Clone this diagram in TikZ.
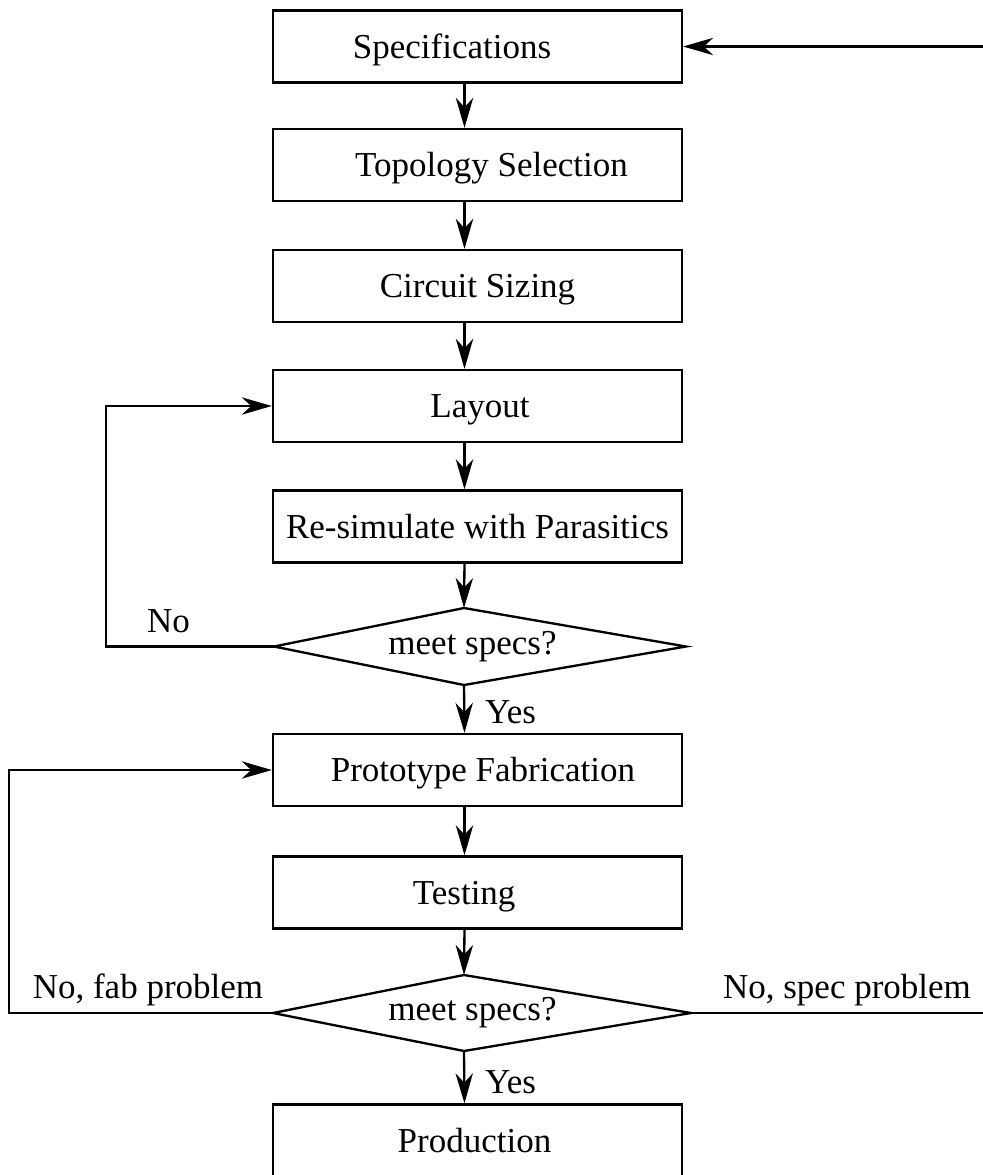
\documentclass[tikz,border=0pt]{standalone}
\usepackage{fontspec}
\setmainfont{Liberation Serif}
\usetikzlibrary{arrows.meta}

\begin{document}
\begin{tikzpicture}[x=0.3pt,y=-0.3pt,
  font=\fontsize{10.5}{12.6}\selectfont,
  line width=0.7pt,
  box/.style={draw, minimum width=122.7pt, minimum height=21.6pt, inner sep=0pt},
  txt/.style={inner sep=0pt, text height=6.9pt, text depth=0pt},
  arr/.style={-{Stealth[length=9pt,width=5.2pt,inset=2.8pt]}},
]
\clip (0,0) rectangle (983,1175);

% process boxes
\node[box, label={[txt,xshift=-7.65pt]center:Specifications}] (s1) at (477.5,46.5) {};
\node[box, label={[txt,xshift=4.2pt]center:Topology Selection}] (s2) at (477.5,165) {};
\node[box, label={[txt]center:Circuit Sizing}] (s3) at (477.5,286) {};
\node[box, label={[txt,xshift=0.75pt]center:Layout}] (s4) at (477.5,406) {};
\node[box, label={[txt]center:Re-simulate with Parasitics}] (s5) at (477.5,526.5) {};
\node[box, label={[txt,xshift=1.65pt]center:Prototype Fabrication}] (s6) at (477.5,770) {};
\node[box, label={[txt,xshift=-4pt]center:Testing}] (s7) at (477.5,892.5) {};
\node[box, label={[txt,xshift=-0.9pt]center:Production}] (s8) at (477.5,1140.5) {};

% decision diamonds
\coordinate (d1t) at (464,608);
\coordinate (d1r) at (686,646.5);
\coordinate (d1b) at (464,685);
\coordinate (d1l) at (274,646.5);
\draw (d1t) -- (d1r) -- (d1b) -- (d1l) -- cycle;
\node[txt, text height=4.6pt] (d1) at (472.5,646.5) {meet specs?};

\coordinate (d2t) at (464,975);
\coordinate (d2r) at (691,1013);
\coordinate (d2b) at (464,1051);
\coordinate (d2l) at (273,1013);
\draw (d2t) -- (d2r) -- (d2b) -- (d2l) -- cycle;
\node[txt, text height=4.6pt] (d2) at (472.5,1013) {meet specs?};

% main flow
\coordinate (ax) at (464.5,0);
\draw[arr] (s1.south -| ax) -- (s2.north -| ax);
\draw[arr] (s2.south -| ax) -- (s3.north -| ax);
\draw[arr] (s3.south -| ax) -- (s4.north -| ax);
\draw[arr] (s4.south -| ax) -- (s5.north -| ax);
\draw[arr] (s5.south -| ax) -- (d1t);
\draw[arr] (d1b) -- (s6.north -| ax);
\draw[arr] (s6.south -| ax) -- (s7.north -| ax);
\draw[arr] (s7.south -| ax) -- (d2t);
\draw[arr] (d2b) -- (s8.north -| ax);

% feedback loops
\coordinate (lx1) at (105.7,0);
\coordinate (lx2) at (9,0);
\coordinate (rx) at (1000,0);
\draw[arr] (d1l) -- (d1l -| lx1) -- (lx1 |- s4.west) -- (s4.west);
\draw[arr] (d2l) -- (d2l -| lx2) -- (lx2 |- s6.west) -- (s6.west);
\draw[arr] (d2r) -- (d2r -| rx) -- (rx |- s1.east) -- (s1.east);

% branch labels
\node[txt, anchor=base west] (yes1) at (484,723) {Yes};
\node[txt, anchor=base west] (yes2) at (484,1093) {Yes};
\node[txt, anchor=base] (no1) at (168.5,632) {No};
\node[txt, anchor=base] (no2) at (148,998) {No, fab problem};
\node[txt, anchor=base] (no3) at (847,998) {No, spec problem};
\end{tikzpicture}
\end{document}
